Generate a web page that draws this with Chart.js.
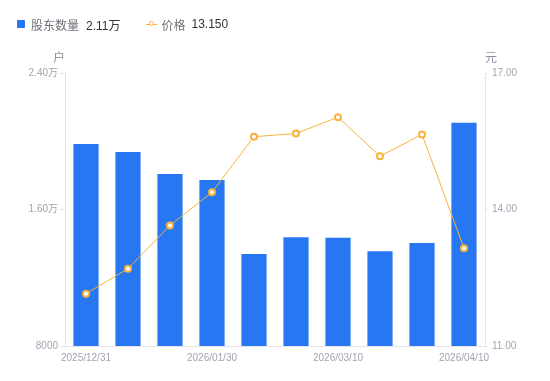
<!DOCTYPE html>
<html>
<head>
<meta charset="utf-8">
<script src="https://cdn.jsdelivr.net/npm/chart.js@4/dist/chart.umd.min.js"></script>
<style>
  html, body { margin: 0; padding: 0; background: #fff; }
  #wrap { position: relative; width: 550px; height: 381px; font-family: "Liberation Sans", "Noto Sans CJK SC", sans-serif; }
  #legend { position: absolute; left: 17px; top: 14px; height: 20px; display: flex; align-items: center; font-size: 12px; white-space: nowrap; }
  .sw { display: inline-block; }
  .lbl { color: #70707a; margin-left: 6px; font-family: "Noto Sans CJK SC", sans-serif; }
  .val { color: #333; margin-left: 7px; }
  canvas { position: absolute; left: 0; top: 0; }
</style>
</head>
<body>
<div id="wrap">
  <canvas id="c" width="550" height="381"></canvas>
  <div id="legend">
    <span class="sw" style="width:8px;height:8px;background:#2777f2;border-radius:1px;"></span>
    <span class="lbl">股东数量</span><span class="val">2.11万</span>
    <span class="sw" style="margin-left:26px;width:11px;height:8px;position:relative;">
      <span style="position:absolute;left:0;top:3.5px;width:11px;height:1px;background:#f7b23b;"></span>
      <span style="position:absolute;left:2.5px;top:1px;width:3px;height:3px;border:1.5px solid #f7b23b;border-radius:50%;background:#fff;"></span>
    </span>
    <span class="lbl" style="margin-left:4px;">价格</span><span class="val" style="margin-left:6px;">13.150</span>
  </div>
</div>
<script>
const categories = ['2025/12/31','2026/01/10','2026/01/20','2026/01/30','2026/02/10','2026/02/28','2026/03/10','2026/03/20','2026/03/31','2026/04/10'];
const holders = [19840, 19370, 18080, 17730, 13390, 14370, 14350, 13550, 14040, 21080];
const prices = [12.15, 12.70, 13.65, 14.38, 15.60, 15.67, 16.03, 15.17, 15.65, 13.15];
const shownLabels = ['2025/12/31','2026/01/30','2026/03/10','2026/04/10'];
const leftTicks = [8000, 16000, 24000];
const rightTicks = [11, 14, 17];
const leftUnit = '户';
const rightUnit = '元';

const axisColor = '#e3e3e8';
const tickColor = '#a3a3b3';
const numFont = '"Liberation Sans", "Noto Sans CJK SC", sans-serif';

const unitPlugin = {
  id: 'units',
  afterDraw(chart) {
    const ctx = chart.ctx;
    const a = chart.chartArea;
    ctx.save();
    ctx.font = '12px "Noto Sans CJK SC", sans-serif';
    ctx.fillStyle = '#8f8f9f';
    ctx.textBaseline = 'middle';
    ctx.textAlign = 'center';
    ctx.fillText(leftUnit, a.left - 6, a.top - 16);
    ctx.fillText(rightUnit, a.right + 6, a.top - 16);
    ctx.restore();
  }
};

new Chart(document.getElementById('c'), {
  data: {
    labels: categories,
    datasets: [
      {
        type: 'line', label: '价格', data: prices, yAxisID: 'y1', order: 0,
        borderColor: '#f7b23b', borderWidth: 1, tension: 0,
        pointRadius: 3, pointBorderWidth: 2, pointBackgroundColor: '#fff', pointBorderColor: '#f7b23b'
      },
      {
        type: 'bar', label: '股东数量', data: holders, yAxisID: 'y', order: 1,
        backgroundColor: '#2777f2', categoryPercentage: 0.6, barPercentage: 1
      }
    ]
  },
  options: {
    responsive: false,
    animation: false,
    layout: { padding: { top: 73, left: 0, right: 0, bottom: 0 } },
    plugins: { legend: { display: false }, tooltip: { enabled: false } },
    scales: {
      x: {
        grid: { display: false, drawTicks: false },
        border: { display: true, color: axisColor },
        ticks: {
          autoSkip: false, maxRotation: 0, padding: 6, color: tickColor,
          font: { size: 10, family: numFont },
          callback: function(v, i) { const l = categories[i]; return shownLabels.includes(l) ? l : ''; }
        },
        afterFit(s) { s.height = 35; }
      },
      y: {
        position: 'left', min: 8000, max: 24000,
        afterBuildTicks(s) { s.ticks = leftTicks.map(v => ({ value: v })); },
        grid: { drawOnChartArea: false, drawTicks: true, tickLength: 5, color: axisColor },
        border: { display: true, color: axisColor },
        ticks: {
          padding: 2, color: tickColor, font: { size: 10, family: numFont },
          callback: v => v >= 10000 ? (v / 10000).toFixed(2) + '万' : String(v)
        },
        afterFit(s) { s.width = 65; }
      },
      y1: {
        position: 'right', min: 11, max: 17,
        afterBuildTicks(s) { s.ticks = rightTicks.map(v => ({ value: v })); },
        grid: { drawOnChartArea: false, drawTicks: true, tickLength: 3, color: axisColor },
        border: { display: true, color: axisColor },
        ticks: {
          padding: 4, color: tickColor, font: { size: 10, family: numFont },
          callback: v => Number(v).toFixed(2)
        },
        afterFit(s) { s.width = 65; }
      }
    }
  },
  plugins: [unitPlugin]
});
</script>
</body>
</html>
